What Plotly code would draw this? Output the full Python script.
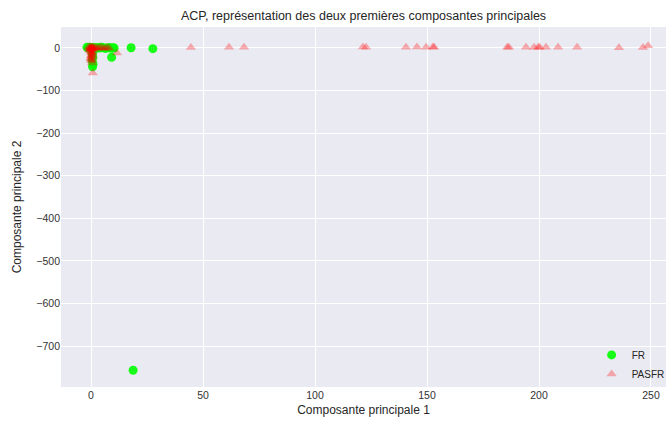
import plotly.graph_objects as go

# FR group (green circles)
fr_x = [-1.8, -1.2, -0.6, 0.0, 0.4, 0.9, 1.5, 2.2, 3.0, 3.8, 4.6, 5.5, 6.3, 7.2, 8.1, 9.0, 9.8, 10.3,
        0.3, 0.6, 0.8, 0.5, 0.9, 0.7, 1.1, 9.2, 17.9, 27.6, 18.8]
fr_y = [1.5, 0.5, 2.0, 0.0, -1.0, 1.0, 0.5, -0.5, 1.0, 0.0, 1.5, 0.5, -1.0, 0.0, 1.0, -0.5, 0.5, 0.0,
        -8, -15, -22, -30, -38, -44, -5, -22, 0.5, -1.5, -757]

# PASFR group (red triangles)
pasfr_x = [-1.2, -0.8, -0.5, -0.2, 0.0, 0.2, 0.4, 0.6, 0.8, 1.0, 1.3, 1.7, 2.2, 2.8, 3.5, 4.2, 5.0, 5.8,
           6.6, 7.4, 8.2, -0.4, 0.1, 0.5, 0.3, 0.7, -0.1, 0.2, 0.6, 0.4, 0.9, 0.0, -0.3, 0.5,
           -0.6, 0.1, 0.3, -0.2, 0.5, 0.2, 0.8,
           11.6, 44.6, 61.6, 68.3, 121.4, 122.8, 140.6, 145.5, 149.6, 152.6, 153.2, 185.8, 186.6,
           194.2, 197.8, 199.6, 200.3, 203.1, 208.5, 217.0, 235.7, 246.4, 248.7]
pasfr_y = [2.0, -1.0, 3.0, 0.5, -2.0, 1.5, -0.5, 2.5, 0.0, 1.0, -1.5, 0.5, 1.0, -0.5, 0.0, 1.5, 0.5, -1.0,
           0.0, 1.0, -0.5, -6, -10, -14, -18, -22, -26, -30, -8, -12, -4, -20, -3, -35,
           -5, -9, -16, -24, -28, -2, -59,
           -12, 1.0, 1.5, 2.0, 2.5, 2.0, 2.0, 2.5, 2.0, 2.5, 2.0, 2.0, 1.5,
           1.5, 2.0, 2.0, 1.5, 1.5, 1.5, 2.0, 0.5, 1.0, 5.5]

title = "ACP, représentation des deux premières composantes principales"
x_label = "Composante principale 1"
y_label = "Composante principale 2"

fig = go.Figure()
fig.add_trace(go.Scatter(
    x=fr_x, y=fr_y, mode="markers", name="FR",
    marker=dict(symbol="circle", size=9, color="rgb(0,255,0)", opacity=0.9, line=dict(width=0)),
))
fig.add_trace(go.Scatter(
    x=pasfr_x, y=pasfr_y, mode="markers", name="PASFR",
    marker=dict(symbol="triangle-up", size=9, color="rgb(255,0,0)", opacity=0.3, line=dict(width=0)),
))

font_family = "Liberation Sans, Arial, sans-serif"
fig.update_layout(
    width=669, height=423,
    margin=dict(l=61, r=3, t=27, b=36, autoexpand=False),
    paper_bgcolor="white",
    plot_bgcolor="#EAEAF2",
    font=dict(family=font_family, size=11, color="#262626"),
    title=dict(text=title, x=(61 + 302.5) / 669, xanchor="center", y=1 - 16 / 423, yanchor="middle",
               font=dict(size=12.5, color="#262626")),
    showlegend=True,
    legend=dict(x=1.006, y=-0.004, xanchor="right", yanchor="bottom", bgcolor="rgba(0,0,0,0)",
                font=dict(size=10, color="#262626"), itemwidth=30, tracegroupgap=0),
)
fig.update_xaxes(
    range=[-13.4, 256.7], tickvals=[0, 50, 100, 150, 200, 250],
    showgrid=True, gridcolor="white", gridwidth=1, zeroline=False, showline=False,
    ticks="", tickfont=dict(size=10.5, color="#333333"), automargin=False,
    title=dict(text=x_label, font=dict(size=12, color="#262626"), standoff=6),
)
fig.update_yaxes(
    range=[-796.3, 49.3], tickvals=[0, -100, -200, -300, -400, -500, -600, -700],
    showgrid=True, gridcolor="white", gridwidth=1, zeroline=False, showline=False,
    ticks="", tickfont=dict(size=10.5, color="#333333"), automargin=False,
    title=dict(text=y_label, font=dict(size=12, color="#262626"), standoff=12),
)

fig.write_html("out.html")
